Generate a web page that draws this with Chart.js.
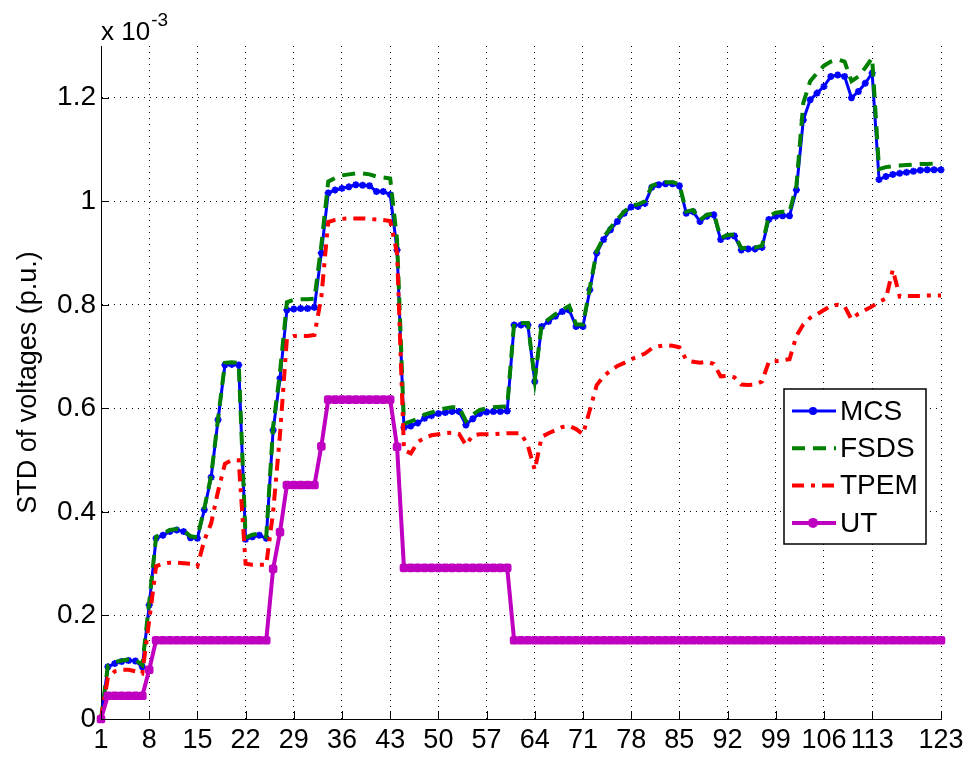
<!DOCTYPE html>
<html lang="en">
<head>
<meta charset="UTF-8">
<title>STD of voltages</title>
<script src="https://cdn.jsdelivr.net/npm/chart.js"></script>
<style>
    html, body { margin: 0; padding: 0; background: #fff; }
    #wrap { width: 971px; height: 758px; }
</style>
</head>
<body>
<div id="wrap"><canvas id="stdChart" width="971" height="758"></canvas></div>
<script>
    // bus index on x axis (1..123)
    const buses = [];
    for (let i = 1; i <= 123; i++) buses.push(i);

    const xTicks = [1, 8, 15, 22, 29, 36, 43, 50, 57, 64, 71, 78, 85, 92, 99, 106, 113, 123];
    const yTicks = [0, 0.2, 0.4, 0.6, 0.8, 1.0, 1.2];

    // all values in units of 1e-3 p.u.
    const mcs = [
        0, 0.101, 0.107, 0.111, 0.113, 0.112, 0.101, 0.22, 0.349, 0.355,
        0.362, 0.365, 0.362, 0.35, 0.349, 0.404, 0.467, 0.578, 0.684, 0.685,
        0.684, 0.347, 0.352, 0.355, 0.349, 0.558, 0.658, 0.79, 0.792, 0.793,
        0.793, 0.795, 0.90, 1.016, 1.022, 1.025, 1.028, 1.032, 1.031, 1.03,
        1.019, 1.019, 1.013, 0.906, 0.563, 0.566, 0.572, 0.581, 0.586, 0.59,
        0.592, 0.594, 0.594, 0.568, 0.58, 0.59, 0.593, 0.594, 0.594, 0.595,
        0.761, 0.761, 0.761, 0.652, 0.758, 0.768, 0.778, 0.787, 0.79, 0.758,
        0.758, 0.829, 0.90, 0.926, 0.945, 0.961, 0.977, 0.989, 0.99, 0.996,
        1.027, 1.032, 1.034, 1.034, 1.03, 0.977, 0.98, 0.961, 0.971, 0.974,
        0.926, 0.932, 0.933, 0.906, 0.908, 0.908, 0.911, 0.965, 0.971, 0.972,
        0.972, 1.022, 1.157, 1.196, 1.209, 1.222, 1.241, 1.244, 1.241, 1.20,
        1.212, 1.228, 1.248, 1.042, 1.048, 1.052, 1.054, 1.056, 1.058, 1.06,
        1.061, 1.061, 1.061
    ];
    const fsds = [
        0, 0.103, 0.11, 0.113, 0.115, 0.114, 0.104, 0.225, 0.352, 0.358,
        0.365, 0.367, 0.364, 0.353, 0.351, 0.407, 0.47, 0.58, 0.688, 0.689,
        0.688, 0.35, 0.356, 0.358, 0.352, 0.565, 0.67, 0.805, 0.81, 0.811,
        0.811, 0.812, 0.915, 1.038, 1.045, 1.05, 1.052, 1.054, 1.054, 1.052,
        1.048, 1.046, 1.044, 0.925, 0.57, 0.575, 0.58, 0.588, 0.592, 0.597,
        0.60, 0.602, 0.602, 0.576, 0.588, 0.597, 0.60, 0.602, 0.603, 0.604,
        0.765, 0.765, 0.765, 0.655, 0.762, 0.772, 0.782, 0.79, 0.798, 0.762,
        0.762, 0.833, 0.904, 0.93, 0.949, 0.965, 0.98, 0.992, 0.994, 1.0,
        1.03, 1.035, 1.037, 1.037, 1.033, 0.98, 0.983, 0.964, 0.974, 0.977,
        0.929, 0.935, 0.936, 0.909, 0.911, 0.911, 0.914, 0.972, 0.978, 0.98,
        0.98, 1.03, 1.19, 1.232, 1.248, 1.262, 1.27, 1.274, 1.27, 1.232,
        1.241, 1.258, 1.277, 1.062, 1.066, 1.068, 1.069, 1.07, 1.071, 1.072,
        1.072, 1.073, 1.073
    ];
    const tpem = [
        0, 0.08, 0.092, 0.095, 0.095, 0.092, 0.088, 0.19, 0.295, 0.30,
        0.302, 0.302, 0.301, 0.30, 0.295, 0.345, 0.378, 0.44, 0.493, 0.50,
        0.50, 0.30, 0.298, 0.298, 0.298, 0.40, 0.55, 0.735, 0.74, 0.74,
        0.74, 0.742, 0.815, 0.96, 0.964, 0.966, 0.967, 0.967, 0.967, 0.966,
        0.965, 0.964, 0.962, 0.90, 0.52, 0.513, 0.535, 0.543, 0.548, 0.55,
        0.552, 0.553, 0.551, 0.529, 0.548, 0.55, 0.55, 0.55, 0.551, 0.552,
        0.552, 0.552, 0.528, 0.481, 0.545, 0.552, 0.558, 0.564, 0.566, 0.56,
        0.55, 0.597, 0.645, 0.662, 0.673, 0.682, 0.688, 0.695, 0.70, 0.706,
        0.716, 0.72, 0.722, 0.721, 0.718, 0.694, 0.69, 0.688, 0.69, 0.686,
        0.662, 0.663, 0.66, 0.646, 0.645, 0.646, 0.652, 0.69, 0.691, 0.693,
        0.695, 0.74, 0.762, 0.775, 0.782, 0.79, 0.798, 0.80, 0.797, 0.772,
        0.783, 0.79, 0.797, 0.806, 0.812, 0.868, 0.816, 0.817, 0.817, 0.817,
        0.818, 0.818, 0.818
    ];
    const ut = [
        0, 0.045, 0.045, 0.045, 0.045, 0.045, 0.045, 0.095, 0.152, 0.152,
        0.152, 0.152, 0.152, 0.152, 0.152, 0.152, 0.152, 0.152, 0.152, 0.152,
        0.152, 0.152, 0.152, 0.152, 0.152, 0.29, 0.361, 0.452, 0.452, 0.452,
        0.452, 0.452, 0.527, 0.617, 0.617, 0.617, 0.617, 0.617, 0.617, 0.617,
        0.617, 0.617, 0.617, 0.526, 0.292, 0.292, 0.292, 0.292, 0.292, 0.292,
        0.292, 0.292, 0.292, 0.292, 0.292, 0.292, 0.292, 0.292, 0.292, 0.292,
        0.152, 0.152, 0.152, 0.152, 0.152, 0.152, 0.152, 0.152, 0.152, 0.152,
        0.152, 0.152, 0.152, 0.152, 0.152, 0.152, 0.152, 0.152, 0.152, 0.152,
        0.152, 0.152, 0.152, 0.152, 0.152, 0.152, 0.152, 0.152, 0.152, 0.152,
        0.152, 0.152, 0.152, 0.152, 0.152, 0.152, 0.152, 0.152, 0.152, 0.152,
        0.152, 0.152, 0.152, 0.152, 0.152, 0.152, 0.152, 0.152, 0.152, 0.152,
        0.152, 0.152, 0.152, 0.152, 0.152, 0.152, 0.152, 0.152, 0.152, 0.152,
        0.152, 0.152, 0.152
    ];

    const FONT = '"Liberation Sans", Arial, Helvetica, sans-serif';
    Chart.defaults.font.family = FONT;
    Chart.defaults.color = '#000';

    function pts(arr) {
        return arr.map((v, i) => ({x: buses[i], y: v}));
    }

    // MATLAB style inward tick marks, the x10^-3 multiplier and the boxed legend
    const matlabBits = {
        id: 'matlabBits',
        afterDraw(chart) {
            const ctx = chart.ctx;
            const a = chart.chartArea;
            const sx = chart.scales.x, sy = chart.scales.y;
            ctx.save();
            ctx.strokeStyle = '#000';
            ctx.lineWidth = 1;
            ctx.setLineDash([]);
            ctx.beginPath();
            xTicks.forEach(v => {
                const px = Math.round(sx.getPixelForValue(v)) + 0.5;
                ctx.moveTo(px, a.bottom);
                ctx.lineTo(px, a.bottom - 8);
            });
            yTicks.forEach(v => {
                const py = Math.round(sy.getPixelForValue(v)) + 0.5;
                ctx.moveTo(a.left, py);
                ctx.lineTo(a.left + 8, py);
            });
            ctx.stroke();

            // x 10^-3
            ctx.fillStyle = '#000';
            ctx.textBaseline = 'alphabetic';
            ctx.font = '26px ' + FONT;
            ctx.fillText('x 10', a.left, 40);
            const w = ctx.measureText('x 10').width;
            ctx.font = '19px ' + FONT;
            ctx.fillText('-3', a.left + w + 1, 26);

            // legend
            const bx = 784, by = 389, bw = 142, bh = 155;
            ctx.fillStyle = '#fff';
            ctx.fillRect(bx, by, bw, bh);
            ctx.strokeStyle = '#000';
            ctx.lineWidth = 1.5;
            ctx.strokeRect(bx, by, bw, bh);
            ctx.font = '28px ' + FONT;
            ctx.textBaseline = 'middle';
            chart.data.datasets.forEach((ds, i) => {
                const yy = by + 22 + i * 37.3;
                ctx.strokeStyle = ds.borderColor;
                ctx.lineWidth = ds.borderWidth;
                ctx.setLineDash(ds.borderDash || []);
                ctx.beginPath();
                ctx.moveTo(bx + 8, yy);
                ctx.lineTo(bx + 52, yy);
                ctx.stroke();
                ctx.setLineDash([]);
                if (ds.pointRadius > 0) {
                    ctx.fillStyle = ds.borderColor;
                    ctx.beginPath();
                    ctx.arc(bx + 29, yy, ds.label === 'UT' ? 5 : 4, 0, Math.PI * 2);
                    ctx.fill();
                }
                ctx.fillStyle = '#000';
                ctx.fillText(ds.label, bx + 56, yy + 1);
            });
            ctx.restore();
        }
    };

    const ctx = document.getElementById('stdChart');
    const chart = new Chart(ctx, {
        type: 'line',
        data: {
            datasets: [
                {
                    label: 'MCS',
                    data: pts(mcs),
                    borderColor: '#0000ff',
                    backgroundColor: '#0000ff',
                    borderWidth: 3,
                    pointStyle: 'star',
                    pointRadius: 3.5,
                    pointBorderWidth: 2,
                    pointBorderColor: '#0000ff',
                    order: 4
                },
                {
                    label: 'FSDS',
                    data: pts(fsds),
                    borderColor: '#008000',
                    backgroundColor: '#008000',
                    borderWidth: 4,
                    borderDash: [13, 8],
                    pointRadius: 0,
                    order: 3
                },
                {
                    label: 'TPEM',
                    data: pts(tpem),
                    borderColor: '#ff0000',
                    backgroundColor: '#ff0000',
                    borderWidth: 4,
                    borderDash: [12, 7, 4, 7],
                    pointRadius: 0,
                    order: 2
                },
                {
                    label: 'UT',
                    data: pts(ut),
                    borderColor: '#c000c0',
                    backgroundColor: '#c000c0',
                    borderWidth: 4,
                    pointStyle: 'rectRounded',
                    pointRadius: 5,
                    pointBorderWidth: 0,
                    order: 1
                }
            ]
        },
        options: {
            responsive: false,
            animation: false,
            devicePixelRatio: 1,
            clip: false,
            elements: { line: { tension: 0 } },
            layout: { padding: { top: 46, right: 30, bottom: 0, left: 0 } },
            plugins: {
                legend: { display: false },
                tooltip: { enabled: false }
            },
            scales: {
                x: {
                    type: 'linear',
                    min: 1,
                    max: 123,
                    afterBuildTicks: s => { s.ticks = xTicks.map(v => ({value: v})); },
                    afterFit: s => { s.height = 39; },
                    ticks: {
                        autoSkip: false,
                        maxRotation: 0,
                        minRotation: 0,
                        padding: 5,
                        font: { size: 27 },
                        callback: v => String(v)
                    },
                    grid: { color: '#000', lineWidth: 1, drawTicks: false },
                    border: { display: true, color: '#000', width: 1, dash: [1, 5] }
                },
                y: {
                    min: 0,
                    max: 1.3,
                    afterBuildTicks: s => { s.ticks = yTicks.map(v => ({value: v})); },
                    afterFit: s => { s.width = 101; },
                    ticks: {
                        padding: 5,
                        font: { size: 28 },
                        callback: v => String(+v.toFixed(1))
                    },
                    title: {
                        display: true,
                        text: 'STD of voltages (p.u.)',
                        font: { size: 27 },
                        color: '#000',
                        padding: { top: 12, bottom: 0 }
                    },
                    grid: { color: '#000', lineWidth: 1, drawTicks: false },
                    border: { display: true, color: '#000', width: 1, dash: [1, 5] }
                }
            }
        },
        plugins: [matlabBits]
    });
</script>
</body>
</html>
